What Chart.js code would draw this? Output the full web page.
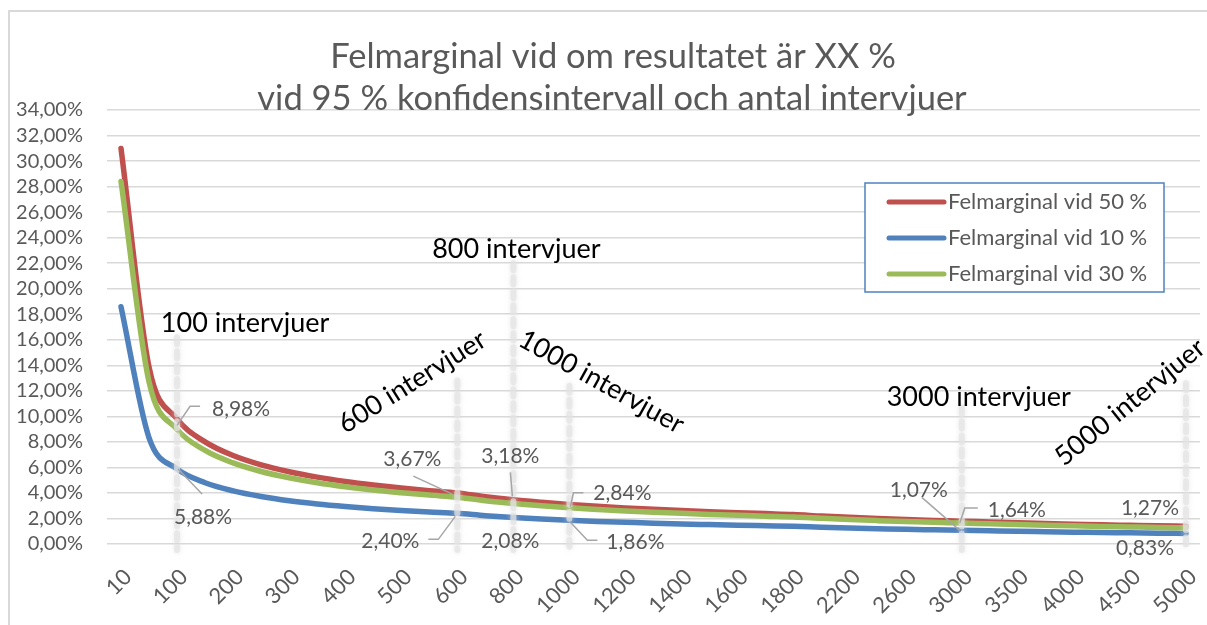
<!DOCTYPE html>
<html>
<head>
<meta charset="utf-8">
<script src="https://cdn.jsdelivr.net/npm/chart.js@4.4.0/dist/chart.umd.min.js"></script>
<style>
	html, body { margin:0; padding:0; background:#fff; overflow:hidden; }
	#wrap { position:relative; width:1207px; height:625px; overflow:hidden; }
	#frame { position:absolute; left:8px; top:10px; width:1300px; height:700px; border:2px solid #d9d9d9; box-sizing:border-box; }
	canvas { position:absolute; left:0; top:0; }
</style>
</head>
<body>
<div id="wrap"><div id="frame"></div><canvas id="chart" width="1207" height="625"></canvas></div>
<script>
// antal intervjuer (every other one gets a label on the axis)
var categories = ['10','50','100','150','200','250','300','350','400','450','500','550','600','700','800','900','1000','1100','1200','1300','1400','1500','1600','1700','1800','2000','2200','2400','2600','2800','3000','3250','3500','3750','4000','4250','4500','4750','5000'];
var tickLabels = ['10','100','200','300','400','500','600','800','1000','1200','1400','1600','1800','2200','2600','3000','3500','4000','4500','5000'];

// felmarginal in percent
var moe50 = [30.99,13.86,9.80,8.00,6.93,6.20,5.66,5.24,4.90,4.62,4.38,4.18,4.00,3.70,3.46,3.27,3.10,2.95,2.83,2.72,2.62,2.53,2.45,2.38,2.31,2.19,2.09,2.00,1.92,1.85,1.79,1.72,1.66,1.60,1.55,1.50,1.46,1.42,1.39];
var moe10 = [18.59,8.32,5.88,4.80,4.16,3.72,3.39,3.14,2.94,2.77,2.63,2.51,2.40,2.22,2.08,1.96,1.86,1.77,1.70,1.63,1.57,1.52,1.47,1.43,1.39,1.31,1.25,1.20,1.15,1.11,1.07,1.03,0.99,0.96,0.93,0.90,0.88,0.85,0.83];
var moe30 = [28.40,12.70,8.98,7.33,6.35,5.68,5.19,4.80,4.49,4.23,4.02,3.83,3.67,3.39,3.18,2.99,2.84,2.71,2.59,2.49,2.40,2.32,2.25,2.18,2.12,2.01,1.91,1.83,1.76,1.70,1.64,1.58,1.52,1.47,1.42,1.38,1.34,1.30,1.27];

var seriesNames = ['Felmarginal vid 50 %','Felmarginal vid 10 %','Felmarginal vid 30 %'];
var seriesColors = ['#c0504d','#4f81bd','#9bbb59'];
var titleLines = ['Felmarginal vid om resultatet är XX %','vid 95 % konfidensintervall och antal intervjuer'];
var markedCategories = ['100','600','800','1000','3000','5000'];
var markerTops = [16.2, 12.8, 22.0, 12.4, 10.7, 12.6];

var FONT = 'Lato, "Open Sans", sans-serif';
var GREY = '#595959';

function pct(v){
	return v.toFixed(2).replace('.', ',') + '%';
}

// text notes: category, y value, x shift, rotation
var notes = [
	{cat:'100', y:17.3, dx:68, rot:0, text:'100 intervjuer'},
	{cat:'800', y:23.1, dx:3, rot:0, text:'800 intervjuer'},
	{cat:'600', y:12.7, dx:-45, rot:-32, text:'600 intervjuer'},
	{cat:'1000', y:12.7, dx:32, rot:29, text:'1000 intervjuer'},
	{cat:'3000', y:11.5, dx:17, rot:0, text:'3000 intervjuer'},
	{cat:'5000', y:11.1, dx:-56, rot:-39, text:'5000 intervjuer'}
];

// data labels: dataset, category, label offset, leader line
var pointLabels = [
	{ds:2, cat:'100', dx:64, dy:-20, leader:[[0,-4],[13,-23],[23,-23]]},
	{ds:1, cat:'100', dx:26, dy:48, leader:[[1,0],[25,25]]},
	{ds:2, cat:'600', dx:-45, dy:-38, leader:[[-44,-21],[-5,-3]]},
	{ds:1, cat:'600', dx:-67, dy:28, leader:[[-29,26],[-19,26],[-2,3]]},
	{ds:2, cat:'800', dx:-3, dy:-47, leader:[[-3,-31],[-1,-7]]},
	{ds:1, cat:'800', dx:-3, dy:24, leader:null},
	{ds:2, cat:'1000', dx:53, dy:-15, leader:[[1,-1],[4,-15],[14,-15]]},
	{ds:1, cat:'1000', dx:66, dy:22, leader:[[1,2],[18,20],[28,20]]},
	{ds:1, cat:'3000', dx:-43, dy:-40, leader:[[-40,-33],[-2,0]]},
	{ds:2, cat:'3000', dx:55, dy:-13, leader:[[-2,0],[3,-15],[16,-15]]},
	{ds:2, cat:'5000', dx:-36, dy:-20, leader:null},
	{ds:1, cat:'5000', dx:-41, dy:15, leader:null}
];

var decorPlugin = {
	id: 'decor',
	afterDatasetsDraw: function(chart){
		var ctx = chart.ctx;
		var xs = chart.scales.x, ys = chart.scales.y;
		ctx.save();
		// soft dashed marker bars
		ctx.strokeStyle = 'rgba(228,228,228,0.7)';
		ctx.lineWidth = 6;
		ctx.lineCap = 'round';
		ctx.setLineDash([7,7]);
		ctx.shadowColor = 'rgba(215,215,215,0.8)';
		ctx.shadowBlur = 5;
		for(var i=0;i<markedCategories.length;i++){
			var mx = xs.getPixelForValue(categories.indexOf(markedCategories[i]));
			ctx.beginPath();
			ctx.moveTo(mx, ys.getPixelForValue(markerTops[i]));
			ctx.lineTo(mx, ys.getPixelForValue(0) + 6);
			ctx.stroke();
		}
		ctx.restore();

		ctx.save();
		ctx.font = '21px ' + FONT;
		ctx.textAlign = 'center';
		ctx.textBaseline = 'middle';
		for(var j=0;j<pointLabels.length;j++){
			var pl = pointLabels[j];
			var idx = categories.indexOf(pl.cat);
			var pt = chart.getDatasetMeta(pl.ds).data[idx];
			if(pl.leader){
				ctx.strokeStyle = '#a6a6a6';
				ctx.lineWidth = 1.5;
				ctx.beginPath();
				for(var k=0;k<pl.leader.length;k++){
					var lx = pt.x + pl.leader[k][0], ly = pt.y + pl.leader[k][1];
					if(k==0) ctx.moveTo(lx, ly); else ctx.lineTo(lx, ly);
				}
				ctx.stroke();
			}
			ctx.fillStyle = GREY;
			ctx.fillText(pct(chart.data.datasets[pl.ds].data[idx]), pt.x + pl.dx, pt.y + pl.dy);
		}
		ctx.restore();
	},
	afterDraw: function(chart){
		var ctx = chart.ctx;
		var xs = chart.scales.x, ys = chart.scales.y;
		ctx.save();
		// title
		ctx.fillStyle = GREY;
		ctx.font = '34.5px ' + FONT;
		ctx.textAlign = 'center';
		ctx.textBaseline = 'alphabetic';
		ctx.fillText(titleLines[0], 613, 68);
		ctx.fillText(titleLines[1], 612, 110);

		// notes
		ctx.fillStyle = '#000';
		ctx.font = '27px ' + FONT;
		ctx.textBaseline = 'middle';
		for(var i=0;i<notes.length;i++){
			var n = notes[i];
			ctx.save();
			ctx.translate(xs.getPixelForValue(categories.indexOf(n.cat)) + n.dx, ys.getPixelForValue(n.y));
			ctx.rotate(n.rot * Math.PI / 180);
			ctx.fillText(n.text, 0, 0);
			ctx.restore();
		}

		// legend box
		var bx = 865, by = 183, bw = 299, bh = 109;
		ctx.fillStyle = '#fff';
		ctx.fillRect(bx, by, bw, bh);
		ctx.strokeStyle = '#4f81bd';
		ctx.lineWidth = 1.5;
		ctx.strokeRect(bx, by, bw, bh);
		ctx.font = '22px ' + FONT;
		ctx.textAlign = 'left';
		for(var s=0;s<seriesNames.length;s++){
			var ry = by + 19 + s * 36;
			ctx.strokeStyle = seriesColors[s];
			ctx.lineWidth = 5;
			ctx.lineCap = 'round';
			ctx.beginPath();
			ctx.moveTo(bx + 24, ry);
			ctx.lineTo(bx + 79, ry);
			ctx.stroke();
			ctx.fillStyle = GREY;
			ctx.fillText(seriesNames[s], bx + 83, ry);
		}
		ctx.restore();
	}
};

var chart = new Chart(document.getElementById('chart'), {
	type: 'line',
	data: {
		labels: categories,
		datasets: [
			{label: seriesNames[0], data: moe50, borderColor: seriesColors[0], order: 2},
			{label: seriesNames[1], data: moe10, borderColor: seriesColors[1], order: 1},
			{label: seriesNames[2], data: moe30, borderColor: seriesColors[2], order: 0}
		]
	},
	options: {
		responsive: false,
		animation: false,
		layout: { autoPadding: false, padding: { left: 0, right: 7, top: 110, bottom: 0 } },
		elements: {
			line: { borderWidth: 5.5, cubicInterpolationMode: 'monotone', borderCapStyle: 'round', borderJoinStyle: 'round' },
			point: { radius: 0, hoverRadius: 0 }
		},
		plugins: {
			legend: { display: false },
			title: { display: false },
			tooltip: { enabled: false }
		},
		scales: {
			x: {
				offset: true,
				grid: { display: false, drawTicks: false },
				border: { display: false },
				ticks: {
					autoSkip: false,
					minRotation: 45,
					maxRotation: 45,
					padding: 20,
					labelOffset: 7,
					color: GREY,
					font: { family: FONT, size: 22 },
					callback: function(value, index){
						var c = categories[index];
						return tickLabels.indexOf(c) >= 0 ? c : '';
					}
				},
				afterFit: function(scale){ scale.height = 81; scale.paddingLeft = 0; scale.paddingRight = 0; }
			},
			y: {
				min: 0,
				max: 34,
				grid: { color: '#d9d9d9', lineWidth: 1.5, drawTicks: false },
				border: { display: false },
				ticks: {
					stepSize: 2,
					autoSkip: false,
					padding: 24,
					color: GREY,
					font: { family: FONT, size: 20 },
					callback: function(value){ return pct(value); }
				},
				afterFit: function(scale){ scale.width = 107; }
			}
		}
	},
	plugins: [decorPlugin]
});
</script>
</body>
</html>
